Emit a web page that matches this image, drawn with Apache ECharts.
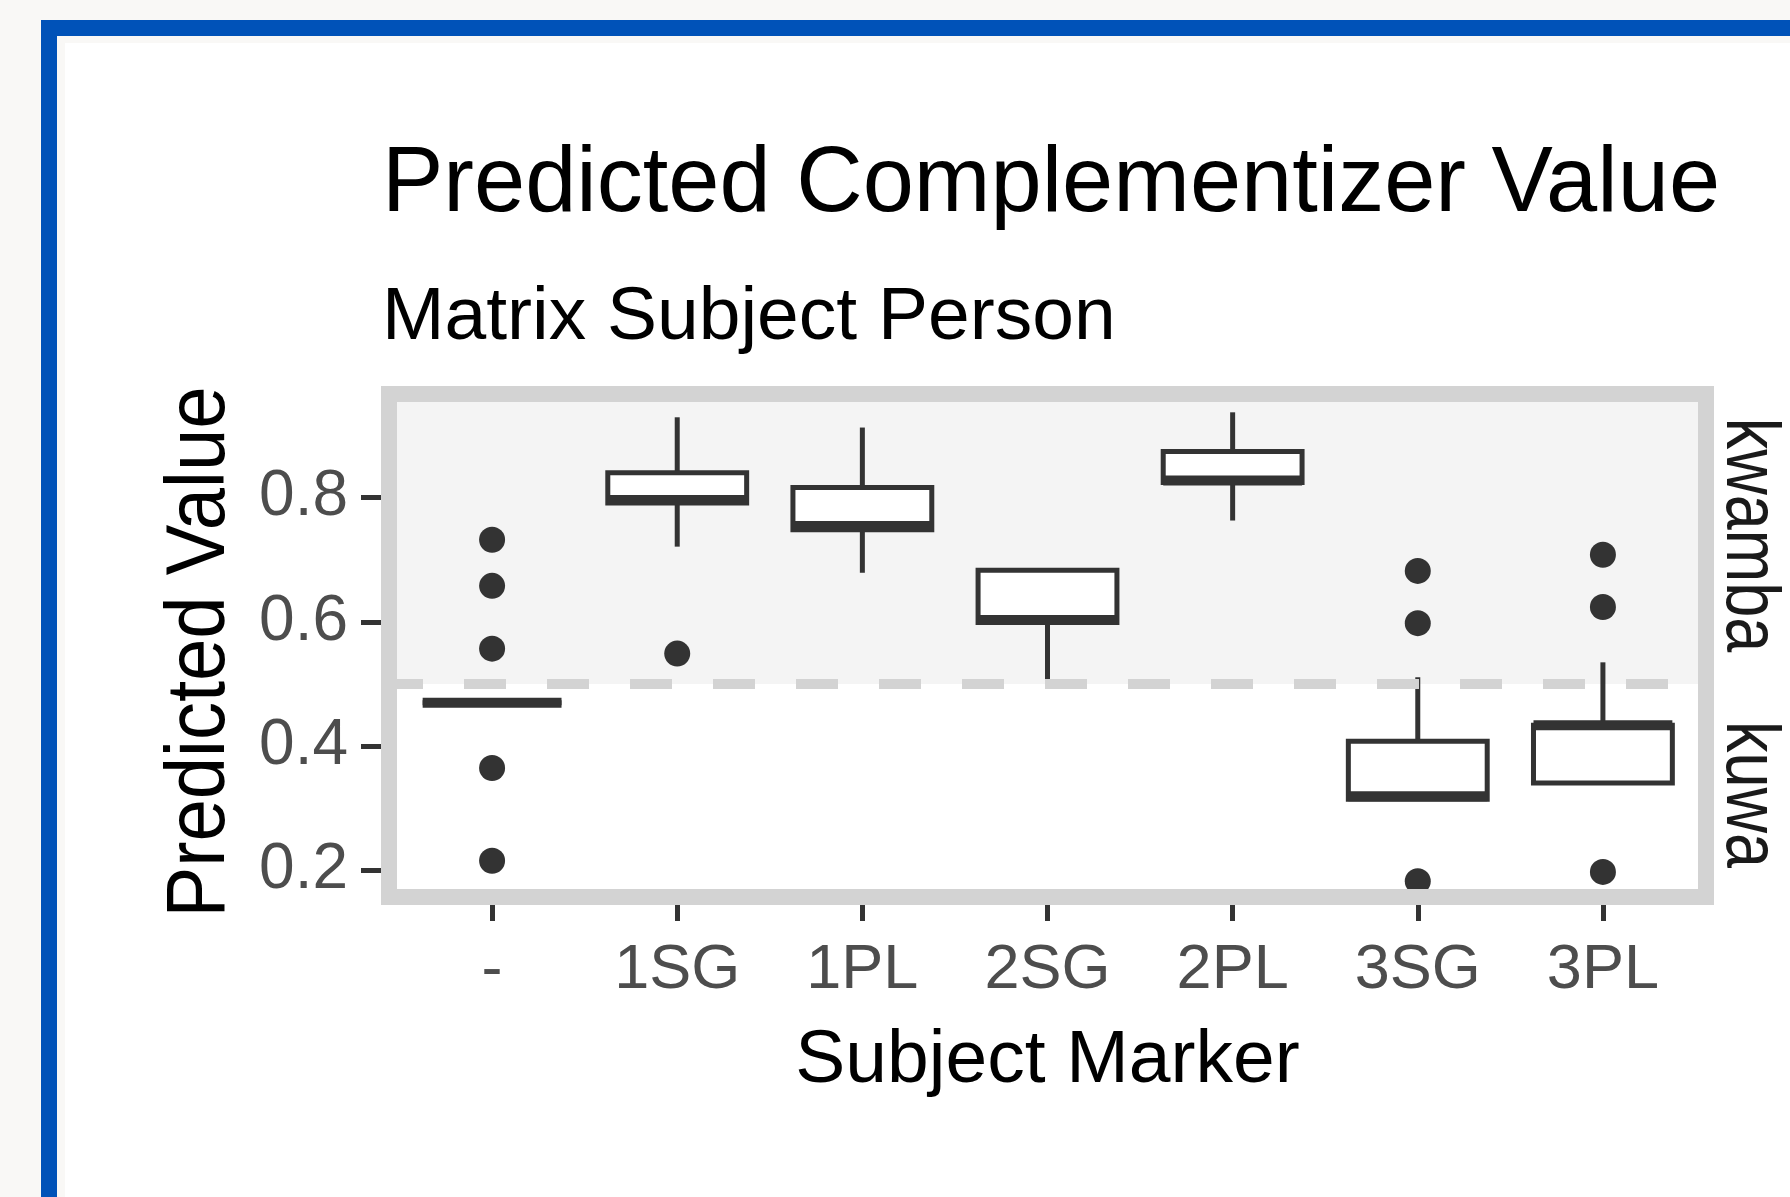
<!DOCTYPE html>
<html><head><meta charset="utf-8">
<script src="https://cdn.jsdelivr.net/npm/echarts@6/dist/echarts.min.js"></script>
<style>
html,body{margin:0;padding:0;width:1790px;height:1197px;overflow:hidden;background:#f9f8f6;}
#frame{position:absolute;left:41px;top:20px;width:1800px;height:1250px;border-left:16px solid #0052b8;border-top:16px solid #0052b8;}
#paper{position:absolute;left:65px;top:43px;right:0;bottom:0;background:#ffffff;}
#chart{position:absolute;left:0;top:0;width:1790px;height:1197px;}
</style></head><body>
<div id="frame"></div><div id="paper"></div><div id="chart"></div>
<script>
// ---------------- data ----------------
const categories = ['-', '1SG', '1PL', '2SG', '2PL', '3SG', '3PL'];
const boxMin    = [0.470, 0.721, 0.679, 0.504, 0.763, 0.315, 0.341];
const boxQ1     = [0.470, 0.791, 0.748, 0.599, 0.824, 0.315, 0.341];
const boxMedian = [0.470, 0.796, 0.754, 0.603, 0.8275, 0.3195, 0.434];
const boxQ3     = [0.470, 0.840, 0.816, 0.683, 0.874, 0.408, 0.434];
const boxMax    = [0.470, 0.929, 0.9125, 0.683, 0.937, 0.511, 0.535];
const outlierCategory = ['-', '-', '-', '-', '-', '1SG', '3SG', '3SG', '3SG', '3PL', '3PL', '3PL'];
const outlierValue    = [0.732, 0.658, 0.557, 0.365, 0.216, 0.549, 0.682, 0.598, 0.183, 0.708, 0.624, 0.198];
const yTickValues = [0.2, 0.4, 0.6, 0.8];
const threshold = 0.5;
const regionLabels = ['kwamba', 'kuwa'];
const yLimits = [0.1448, 0.9793];
const titleText = 'Predicted Complementizer Value';
const subtitleText = 'Matrix Subject Person';
const xTitle = 'Subject Marker';
const yTitle = 'Predicted Value';

// ---------------- layout ----------------
const FONT = '"Liberation Sans", Arial, sans-serif';
const G = {left: 381, top: 386, width: 1333, height: 519};
const BORDER = 16;
const boxWidth = 0.75;
const DARK = '#333333';

const boxData = categories.map((c, i) => [i, boxMin[i], boxQ1[i], boxMedian[i], boxQ3[i], boxMax[i]]);
const outlierData = outlierCategory.map((c, i) => [categories.indexOf(c), outlierValue[i]]);
const catPositions = categories.map((c, i) => i);

function renderBox(params, api) {
  const x = api.value(0);
  const lo = api.coord([x, api.value(1)]);
  const q1 = api.coord([x, api.value(2)]);
  const med = api.coord([x, api.value(3)]);
  const q3 = api.coord([x, api.value(4)]);
  const hi = api.coord([x, api.value(5)]);
  const half = api.size([boxWidth, 0])[0] / 2;
  const cx = lo[0];
  return {type: 'group', children: [
    {type: 'line', shape: {x1: cx, y1: q3[1], x2: cx, y2: hi[1]}, style: {stroke: DARK, lineWidth: 5}},
    {type: 'line', shape: {x1: cx, y1: q1[1], x2: cx, y2: lo[1]}, style: {stroke: DARK, lineWidth: 5}},
    {type: 'rect', shape: {x: cx - half, y: q3[1], width: 2 * half, height: q1[1] - q3[1]},
      style: {fill: '#ffffff', stroke: DARK, lineWidth: 5}},
    {type: 'line', shape: {x1: cx - half, y1: med[1], x2: cx + half, y2: med[1]}, style: {stroke: DARK, lineWidth: 10}}
  ]};
}

function catLabel(v) {
  const r = Math.round(v);
  return (Math.abs(v - r) < 1e-6 && r >= 0 && r < categories.length) ? categories[r] : '';
}

const chart = echarts.init(document.getElementById('chart'), null, {renderer: 'canvas'});
const option = {
  animation: false,
  backgroundColor: 'transparent',
  tooltip: {show: false},
  grid: {left: G.left, top: G.top, width: G.width, height: G.height, show: false, containLabel: false},
  xAxis: {
    type: 'value', min: -0.6, max: categories.length - 0.4,
    axisLine: {show: false, onZero: false}, splitLine: {show: false}, minorTick: {show: false},
    axisTick: {show: true, length: 16, lineStyle: {color: DARK, width: 5}, customValues: catPositions},
    axisLabel: {show: true, customValues: catPositions, formatter: catLabel,
      color: '#4d4d4d', fontSize: 63, fontFamily: FONT, margin: 66, verticalAlign: 'middle'}
  },
  yAxis: {
    type: 'value', min: yLimits[0], max: yLimits[1],
    axisLine: {show: false, onZero: false}, splitLine: {show: false}, minorTick: {show: false},
    axisTick: {show: true, length: 20, lineStyle: {color: DARK, width: 5}, customValues: yTickValues},
    axisLabel: {show: true, customValues: yTickValues, formatter: v => v.toFixed(1),
      color: '#4d4d4d', fontSize: 64, fontFamily: FONT, margin: 33}
  },
  series: [
    {
      type: 'line', data: [], z: 1, silent: true,
      markArea: {silent: true, itemStyle: {color: '#f4f4f4'}, label: {show: false},
        data: [[{yAxis: threshold}, {yAxis: yLimits[1]}]]},
      markLine: {silent: true, symbol: 'none', label: {show: false},
        lineStyle: {color: '#d3d3d3', width: 10, type: [42, 41]},
        data: [{yAxis: threshold}]}
    },
    {type: 'custom', z: 3, silent: true, renderItem: renderBox, data: boxData,
      label: {show: false}, encode: {x: 0, y: [1, 2, 3, 4, 5]}},
    {type: 'scatter', z: 4, silent: true, symbol: 'circle', symbolSize: 26,
      label: {show: false}, itemStyle: {color: DARK, opacity: 1}, data: outlierData}
  ]
};
chart.setOption(option);

const midUpper = chart.convertToPixel({gridIndex: 0}, [0, (threshold + yLimits[1]) / 2]);
const midLower = chart.convertToPixel({gridIndex: 0}, [0, (threshold + yLimits[0]) / 2]);
const txt = (o) => Object.assign({type: 'text', silent: true, z: 100}, o);
chart.setOption({graphic: [
  {type: 'rect', silent: true, z: 50,
    shape: {x: G.left + BORDER / 2, y: G.top + BORDER / 2, width: G.width - BORDER, height: G.height - BORDER},
    style: {fill: 'none', stroke: '#d3d3d3', lineWidth: BORDER}},
  txt({x: 382, y: 186, style: {text: titleText, fontSize: 92, fontFamily: FONT, fill: '#000000', align: 'left', verticalAlign: 'middle'}}),
  txt({x: 382, y: 318, style: {text: subtitleText, fontSize: 75, fontFamily: FONT, fill: '#000000', align: 'left', verticalAlign: 'middle'}}),
  txt({x: G.left + G.width / 2, y: 1061, style: {text: xTitle, fontSize: 75, fontFamily: FONT, fill: '#000000', align: 'center', verticalAlign: 'middle'}}),
  txt({x: 201, y: 652, rotation: Math.PI / 2, scaleY: 1.1,
    style: {text: yTitle, fontSize: 76, fontFamily: FONT, fill: '#000000', align: 'center', verticalAlign: 'middle'}}),
  txt({x: 1748, y: midUpper[1], rotation: -Math.PI / 2, scaleY: 1.2,
    style: {text: regionLabels[0], fontSize: 63, fontFamily: FONT, fill: '#1a1a1a', align: 'center', verticalAlign: 'middle'}}),
  txt({x: 1748, y: midLower[1], rotation: -Math.PI / 2, scaleY: 1.2,
    style: {text: regionLabels[1], fontSize: 63, fontFamily: FONT, fill: '#1a1a1a', align: 'center', verticalAlign: 'middle'}})
]});
</script>
</body></html>
